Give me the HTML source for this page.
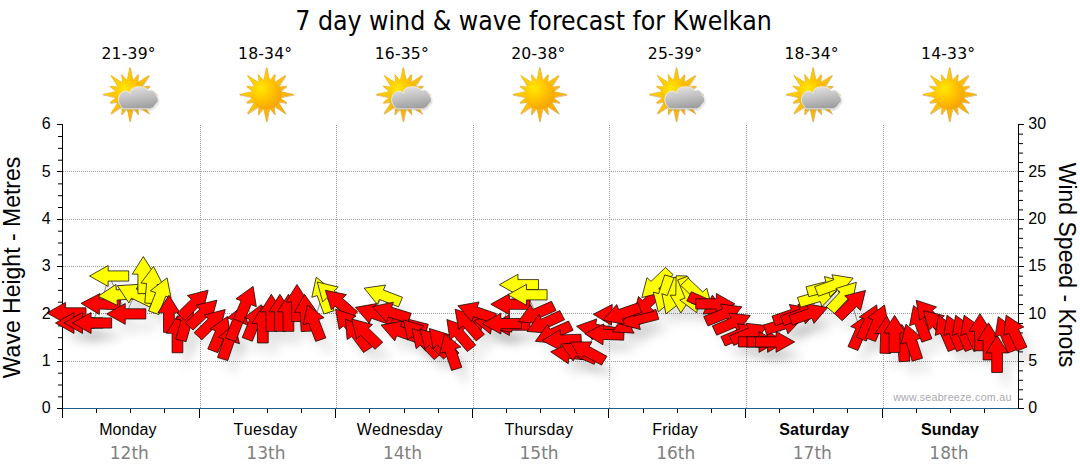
<!DOCTYPE html>
<html lang="en"><head><meta charset="utf-8"><title>7 day wind &amp; wave forecast for Kwelkan</title>
<style>html,body{margin:0;padding:0;background:#fff}body{width:1080px;height:475px;overflow:hidden}svg{display:block}</style>
</head><body>
<svg width="1080" height="475" viewBox="0 0 1080 475">
<defs>
<radialGradient id="sung" cx="0.32" cy="0.3" r="0.85"><stop offset="0" stop-color="#ffe800"/><stop offset="0.45" stop-color="#ffc400"/><stop offset="1" stop-color="#f39a0a"/></radialGradient>
<linearGradient id="rayg" x1="0" y1="0" x2="1" y2="1"><stop offset="0" stop-color="#ffe000"/><stop offset="1" stop-color="#f7a10c"/></linearGradient>
<linearGradient id="cldg" x1="0.2" y1="0" x2="0.45" y2="1"><stop offset="0" stop-color="#e4e4e4"/><stop offset="0.5" stop-color="#c2c2c2"/><stop offset="1" stop-color="#9e9e9e"/></linearGradient>
<filter id="cb" x="-20%" y="-20%" width="140%" height="140%"><feGaussianBlur stdDeviation="0.8"/></filter>
<filter id="sh" x="-5%" y="-30%" width="110%" height="180%"><feGaussianBlur stdDeviation="4"/></filter>
</defs>
<rect width="1080" height="475" fill="#fff"/>
<text x="533.5" y="29.5" text-anchor="middle" font-family="'DejaVu Sans Condensed','DejaVu Sans',sans-serif" font-size="26.5" fill="#000" textLength="476.5" lengthAdjust="spacingAndGlyphs">7 day wind &amp; wave forecast for Kwelkan</text>
<text x="128.6" y="59" text-anchor="middle" font-family="'DejaVu Sans',sans-serif" font-size="15.6" letter-spacing="0.2" fill="#000">21-39°</text>
<path d="M132.8,81.3L129.8,67.3L126.8,81.3ZM137.08,83.25L138.07,74.34L132.47,81.33ZM141.11,87.23L148.89,75.21L136.87,82.99ZM142.77,91.63L149.76,86.03L140.85,87.02ZM142.8,97.3L156.8,94.3L142.8,91.3ZM140.85,101.58L149.76,102.57L142.77,96.97ZM136.87,105.61L148.89,113.39L141.11,101.37ZM132.47,107.27L138.07,114.26L137.08,105.35ZM126.8,107.3L129.8,121.3L132.8,107.3ZM122.52,105.35L121.53,114.26L127.13,107.27ZM118.49,101.37L110.71,113.39L122.73,105.61ZM116.83,96.97L109.84,102.57L118.75,101.58ZM116.8,91.3L102.8,94.3L116.8,97.3ZM118.75,87.02L109.84,86.03L116.83,91.63ZM122.73,82.99L110.71,75.21L118.49,87.23ZM127.13,81.33L121.53,74.34L122.52,83.25Z" fill="url(#rayg)" stroke="#b87408" stroke-width="0.7" stroke-linejoin="round" transform="translate(0.6,0.8)" opacity="0.6"/>
<path d="M132.8,81.3L129.8,67.3L126.8,81.3ZM137.08,83.25L138.07,74.34L132.47,81.33ZM141.11,87.23L148.89,75.21L136.87,82.99ZM142.77,91.63L149.76,86.03L140.85,87.02ZM142.8,97.3L156.8,94.3L142.8,91.3ZM140.85,101.58L149.76,102.57L142.77,96.97ZM136.87,105.61L148.89,113.39L141.11,101.37ZM132.47,107.27L138.07,114.26L137.08,105.35ZM126.8,107.3L129.8,121.3L132.8,107.3ZM122.52,105.35L121.53,114.26L127.13,107.27ZM118.49,101.37L110.71,113.39L122.73,105.61ZM116.83,96.97L109.84,102.57L118.75,101.58ZM116.8,91.3L102.8,94.3L116.8,97.3ZM118.75,87.02L109.84,86.03L116.83,91.63ZM122.73,82.99L110.71,75.21L118.49,87.23ZM127.13,81.33L121.53,74.34L122.52,83.25Z" fill="url(#rayg)" stroke="#e9a516" stroke-width="0.4" stroke-linejoin="round"/>
<circle cx="129.8" cy="94.3" r="15" fill="url(#sung)"/>
<path d="M123.1,108.9C122.42,107.93 119.73,105.05 119,103.1C118.27,101.15 118.3,98.93 118.7,97.2C119.1,95.47 120.2,93.73 121.4,92.7C122.6,91.67 124.53,91.03 125.9,91C127.27,90.97 128.85,92.13 129.6,92.5C130.35,92.87 130.17,93.67 130.4,93.2C130.63,92.73 130.32,90.67 131,89.7C131.68,88.73 133.12,87.9 134.5,87.4C135.88,86.9 137.65,86.7 139.3,86.7C140.95,86.7 143,86.9 144.4,87.4C145.8,87.9 147.02,89.2 147.7,89.7C148.38,90.2 147.77,90.33 148.5,90.4C149.23,90.47 150.95,89.65 152.1,90.1C153.25,90.55 154.67,92.15 155.4,93.1C156.13,94.05 156.07,95 156.5,95.8C156.93,96.6 157.73,96.92 158,97.9C158.27,98.88 158.52,100.63 158.1,101.7C157.68,102.77 156.22,103.43 155.5,104.3C154.78,105.17 154.68,106.13 153.8,106.9C152.92,107.67 150.8,108.57 150.2,108.9Z" fill="#555" opacity="0.35" transform="translate(0.3,1.1)" filter="url(#cb)"/><path d="M123.1,108.9C122.42,107.93 119.73,105.05 119,103.1C118.27,101.15 118.3,98.93 118.7,97.2C119.1,95.47 120.2,93.73 121.4,92.7C122.6,91.67 124.53,91.03 125.9,91C127.27,90.97 128.85,92.13 129.6,92.5C130.35,92.87 130.17,93.67 130.4,93.2C130.63,92.73 130.32,90.67 131,89.7C131.68,88.73 133.12,87.9 134.5,87.4C135.88,86.9 137.65,86.7 139.3,86.7C140.95,86.7 143,86.9 144.4,87.4C145.8,87.9 147.02,89.2 147.7,89.7C148.38,90.2 147.77,90.33 148.5,90.4C149.23,90.47 150.95,89.65 152.1,90.1C153.25,90.55 154.67,92.15 155.4,93.1C156.13,94.05 156.07,95 156.5,95.8C156.93,96.6 157.73,96.92 158,97.9C158.27,98.88 158.52,100.63 158.1,101.7C157.68,102.77 156.22,103.43 155.5,104.3C154.78,105.17 154.68,106.13 153.8,106.9C152.92,107.67 150.8,108.57 150.2,108.9Z" fill="url(#cldg)" stroke="#f2f2f2" stroke-width="0.9"/>
<text x="265.2" y="59" text-anchor="middle" font-family="'DejaVu Sans',sans-serif" font-size="15.6" letter-spacing="0.2" fill="#000">18-34°</text>
<path d="M269.4,81.3L266.4,67.3L263.4,81.3ZM273.68,83.25L274.67,74.34L269.07,81.33ZM277.71,87.23L285.49,75.21L273.47,82.99ZM279.37,91.63L286.36,86.03L277.45,87.02ZM279.4,97.3L293.4,94.3L279.4,91.3ZM277.45,101.58L286.36,102.57L279.37,96.97ZM273.47,105.61L285.49,113.39L277.71,101.37ZM269.07,107.27L274.67,114.26L273.68,105.35ZM263.4,107.3L266.4,121.3L269.4,107.3ZM259.12,105.35L258.13,114.26L263.73,107.27ZM255.09,101.37L247.31,113.39L259.33,105.61ZM253.43,96.97L246.44,102.57L255.35,101.58ZM253.4,91.3L239.4,94.3L253.4,97.3ZM255.35,87.02L246.44,86.03L253.43,91.63ZM259.33,82.99L247.31,75.21L255.09,87.23ZM263.73,81.33L258.13,74.34L259.12,83.25Z" fill="url(#rayg)" stroke="#b87408" stroke-width="0.7" stroke-linejoin="round" transform="translate(0.6,0.8)" opacity="0.6"/>
<path d="M269.4,81.3L266.4,67.3L263.4,81.3ZM273.68,83.25L274.67,74.34L269.07,81.33ZM277.71,87.23L285.49,75.21L273.47,82.99ZM279.37,91.63L286.36,86.03L277.45,87.02ZM279.4,97.3L293.4,94.3L279.4,91.3ZM277.45,101.58L286.36,102.57L279.37,96.97ZM273.47,105.61L285.49,113.39L277.71,101.37ZM269.07,107.27L274.67,114.26L273.68,105.35ZM263.4,107.3L266.4,121.3L269.4,107.3ZM259.12,105.35L258.13,114.26L263.73,107.27ZM255.09,101.37L247.31,113.39L259.33,105.61ZM253.43,96.97L246.44,102.57L255.35,101.58ZM253.4,91.3L239.4,94.3L253.4,97.3ZM255.35,87.02L246.44,86.03L253.43,91.63ZM259.33,82.99L247.31,75.21L255.09,87.23ZM263.73,81.33L258.13,74.34L259.12,83.25Z" fill="url(#rayg)" stroke="#e9a516" stroke-width="0.4" stroke-linejoin="round"/>
<circle cx="266.4" cy="94.3" r="15" fill="url(#sung)"/>
<text x="401.8" y="59" text-anchor="middle" font-family="'DejaVu Sans',sans-serif" font-size="15.6" letter-spacing="0.2" fill="#000">16-35°</text>
<path d="M406,81.3L403,67.3L400,81.3ZM410.28,83.25L411.27,74.34L405.67,81.33ZM414.31,87.23L422.09,75.21L410.07,82.99ZM415.97,91.63L422.96,86.03L414.05,87.02ZM416,97.3L430,94.3L416,91.3ZM414.05,101.58L422.96,102.57L415.97,96.97ZM410.07,105.61L422.09,113.39L414.31,101.37ZM405.67,107.27L411.27,114.26L410.28,105.35ZM400,107.3L403,121.3L406,107.3ZM395.72,105.35L394.73,114.26L400.33,107.27ZM391.69,101.37L383.91,113.39L395.93,105.61ZM390.03,96.97L383.04,102.57L391.95,101.58ZM390,91.3L376,94.3L390,97.3ZM391.95,87.02L383.04,86.03L390.03,91.63ZM395.93,82.99L383.91,75.21L391.69,87.23ZM400.33,81.33L394.73,74.34L395.72,83.25Z" fill="url(#rayg)" stroke="#b87408" stroke-width="0.7" stroke-linejoin="round" transform="translate(0.6,0.8)" opacity="0.6"/>
<path d="M406,81.3L403,67.3L400,81.3ZM410.28,83.25L411.27,74.34L405.67,81.33ZM414.31,87.23L422.09,75.21L410.07,82.99ZM415.97,91.63L422.96,86.03L414.05,87.02ZM416,97.3L430,94.3L416,91.3ZM414.05,101.58L422.96,102.57L415.97,96.97ZM410.07,105.61L422.09,113.39L414.31,101.37ZM405.67,107.27L411.27,114.26L410.28,105.35ZM400,107.3L403,121.3L406,107.3ZM395.72,105.35L394.73,114.26L400.33,107.27ZM391.69,101.37L383.91,113.39L395.93,105.61ZM390.03,96.97L383.04,102.57L391.95,101.58ZM390,91.3L376,94.3L390,97.3ZM391.95,87.02L383.04,86.03L390.03,91.63ZM395.93,82.99L383.91,75.21L391.69,87.23ZM400.33,81.33L394.73,74.34L395.72,83.25Z" fill="url(#rayg)" stroke="#e9a516" stroke-width="0.4" stroke-linejoin="round"/>
<circle cx="403" cy="94.3" r="15" fill="url(#sung)"/>
<path d="M396.3,108.9C395.62,107.93 392.93,105.05 392.2,103.1C391.47,101.15 391.5,98.93 391.9,97.2C392.3,95.47 393.4,93.73 394.6,92.7C395.8,91.67 397.73,91.03 399.1,91C400.47,90.97 402.05,92.13 402.8,92.5C403.55,92.87 403.37,93.67 403.6,93.2C403.83,92.73 403.52,90.67 404.2,89.7C404.88,88.73 406.32,87.9 407.7,87.4C409.08,86.9 410.85,86.7 412.5,86.7C414.15,86.7 416.2,86.9 417.6,87.4C419,87.9 420.22,89.2 420.9,89.7C421.58,90.2 420.97,90.33 421.7,90.4C422.43,90.47 424.15,89.65 425.3,90.1C426.45,90.55 427.87,92.15 428.6,93.1C429.33,94.05 429.27,95 429.7,95.8C430.13,96.6 430.93,96.92 431.2,97.9C431.47,98.88 431.72,100.63 431.3,101.7C430.88,102.77 429.42,103.43 428.7,104.3C427.98,105.17 427.88,106.13 427,106.9C426.12,107.67 424,108.57 423.4,108.9Z" fill="#555" opacity="0.35" transform="translate(0.3,1.1)" filter="url(#cb)"/><path d="M396.3,108.9C395.62,107.93 392.93,105.05 392.2,103.1C391.47,101.15 391.5,98.93 391.9,97.2C392.3,95.47 393.4,93.73 394.6,92.7C395.8,91.67 397.73,91.03 399.1,91C400.47,90.97 402.05,92.13 402.8,92.5C403.55,92.87 403.37,93.67 403.6,93.2C403.83,92.73 403.52,90.67 404.2,89.7C404.88,88.73 406.32,87.9 407.7,87.4C409.08,86.9 410.85,86.7 412.5,86.7C414.15,86.7 416.2,86.9 417.6,87.4C419,87.9 420.22,89.2 420.9,89.7C421.58,90.2 420.97,90.33 421.7,90.4C422.43,90.47 424.15,89.65 425.3,90.1C426.45,90.55 427.87,92.15 428.6,93.1C429.33,94.05 429.27,95 429.7,95.8C430.13,96.6 430.93,96.92 431.2,97.9C431.47,98.88 431.72,100.63 431.3,101.7C430.88,102.77 429.42,103.43 428.7,104.3C427.98,105.17 427.88,106.13 427,106.9C426.12,107.67 424,108.57 423.4,108.9Z" fill="url(#cldg)" stroke="#f2f2f2" stroke-width="0.9"/>
<text x="538.4" y="59" text-anchor="middle" font-family="'DejaVu Sans',sans-serif" font-size="15.6" letter-spacing="0.2" fill="#000">20-38°</text>
<path d="M542.6,81.3L539.6,67.3L536.6,81.3ZM546.88,83.25L547.87,74.34L542.27,81.33ZM550.91,87.23L558.69,75.21L546.67,82.99ZM552.57,91.63L559.56,86.03L550.65,87.02ZM552.6,97.3L566.6,94.3L552.6,91.3ZM550.65,101.58L559.56,102.57L552.57,96.97ZM546.67,105.61L558.69,113.39L550.91,101.37ZM542.27,107.27L547.87,114.26L546.88,105.35ZM536.6,107.3L539.6,121.3L542.6,107.3ZM532.32,105.35L531.33,114.26L536.93,107.27ZM528.29,101.37L520.51,113.39L532.53,105.61ZM526.63,96.97L519.64,102.57L528.55,101.58ZM526.6,91.3L512.6,94.3L526.6,97.3ZM528.55,87.02L519.64,86.03L526.63,91.63ZM532.53,82.99L520.51,75.21L528.29,87.23ZM536.93,81.33L531.33,74.34L532.32,83.25Z" fill="url(#rayg)" stroke="#b87408" stroke-width="0.7" stroke-linejoin="round" transform="translate(0.6,0.8)" opacity="0.6"/>
<path d="M542.6,81.3L539.6,67.3L536.6,81.3ZM546.88,83.25L547.87,74.34L542.27,81.33ZM550.91,87.23L558.69,75.21L546.67,82.99ZM552.57,91.63L559.56,86.03L550.65,87.02ZM552.6,97.3L566.6,94.3L552.6,91.3ZM550.65,101.58L559.56,102.57L552.57,96.97ZM546.67,105.61L558.69,113.39L550.91,101.37ZM542.27,107.27L547.87,114.26L546.88,105.35ZM536.6,107.3L539.6,121.3L542.6,107.3ZM532.32,105.35L531.33,114.26L536.93,107.27ZM528.29,101.37L520.51,113.39L532.53,105.61ZM526.63,96.97L519.64,102.57L528.55,101.58ZM526.6,91.3L512.6,94.3L526.6,97.3ZM528.55,87.02L519.64,86.03L526.63,91.63ZM532.53,82.99L520.51,75.21L528.29,87.23ZM536.93,81.33L531.33,74.34L532.32,83.25Z" fill="url(#rayg)" stroke="#e9a516" stroke-width="0.4" stroke-linejoin="round"/>
<circle cx="539.6" cy="94.3" r="15" fill="url(#sung)"/>
<text x="675" y="59" text-anchor="middle" font-family="'DejaVu Sans',sans-serif" font-size="15.6" letter-spacing="0.2" fill="#000">25-39°</text>
<path d="M679.2,81.3L676.2,67.3L673.2,81.3ZM683.48,83.25L684.47,74.34L678.87,81.33ZM687.51,87.23L695.29,75.21L683.27,82.99ZM689.17,91.63L696.16,86.03L687.25,87.02ZM689.2,97.3L703.2,94.3L689.2,91.3ZM687.25,101.58L696.16,102.57L689.17,96.97ZM683.27,105.61L695.29,113.39L687.51,101.37ZM678.87,107.27L684.47,114.26L683.48,105.35ZM673.2,107.3L676.2,121.3L679.2,107.3ZM668.92,105.35L667.93,114.26L673.53,107.27ZM664.89,101.37L657.11,113.39L669.13,105.61ZM663.23,96.97L656.24,102.57L665.15,101.58ZM663.2,91.3L649.2,94.3L663.2,97.3ZM665.15,87.02L656.24,86.03L663.23,91.63ZM669.13,82.99L657.11,75.21L664.89,87.23ZM673.53,81.33L667.93,74.34L668.92,83.25Z" fill="url(#rayg)" stroke="#b87408" stroke-width="0.7" stroke-linejoin="round" transform="translate(0.6,0.8)" opacity="0.6"/>
<path d="M679.2,81.3L676.2,67.3L673.2,81.3ZM683.48,83.25L684.47,74.34L678.87,81.33ZM687.51,87.23L695.29,75.21L683.27,82.99ZM689.17,91.63L696.16,86.03L687.25,87.02ZM689.2,97.3L703.2,94.3L689.2,91.3ZM687.25,101.58L696.16,102.57L689.17,96.97ZM683.27,105.61L695.29,113.39L687.51,101.37ZM678.87,107.27L684.47,114.26L683.48,105.35ZM673.2,107.3L676.2,121.3L679.2,107.3ZM668.92,105.35L667.93,114.26L673.53,107.27ZM664.89,101.37L657.11,113.39L669.13,105.61ZM663.23,96.97L656.24,102.57L665.15,101.58ZM663.2,91.3L649.2,94.3L663.2,97.3ZM665.15,87.02L656.24,86.03L663.23,91.63ZM669.13,82.99L657.11,75.21L664.89,87.23ZM673.53,81.33L667.93,74.34L668.92,83.25Z" fill="url(#rayg)" stroke="#e9a516" stroke-width="0.4" stroke-linejoin="round"/>
<circle cx="676.2" cy="94.3" r="15" fill="url(#sung)"/>
<path d="M669.5,108.9C668.82,107.93 666.13,105.05 665.4,103.1C664.67,101.15 664.7,98.93 665.1,97.2C665.5,95.47 666.6,93.73 667.8,92.7C669,91.67 670.93,91.03 672.3,91C673.67,90.97 675.25,92.13 676,92.5C676.75,92.87 676.57,93.67 676.8,93.2C677.03,92.73 676.72,90.67 677.4,89.7C678.08,88.73 679.52,87.9 680.9,87.4C682.28,86.9 684.05,86.7 685.7,86.7C687.35,86.7 689.4,86.9 690.8,87.4C692.2,87.9 693.42,89.2 694.1,89.7C694.78,90.2 694.17,90.33 694.9,90.4C695.63,90.47 697.35,89.65 698.5,90.1C699.65,90.55 701.07,92.15 701.8,93.1C702.53,94.05 702.47,95 702.9,95.8C703.33,96.6 704.13,96.92 704.4,97.9C704.67,98.88 704.92,100.63 704.5,101.7C704.08,102.77 702.62,103.43 701.9,104.3C701.18,105.17 701.08,106.13 700.2,106.9C699.32,107.67 697.2,108.57 696.6,108.9Z" fill="#555" opacity="0.35" transform="translate(0.3,1.1)" filter="url(#cb)"/><path d="M669.5,108.9C668.82,107.93 666.13,105.05 665.4,103.1C664.67,101.15 664.7,98.93 665.1,97.2C665.5,95.47 666.6,93.73 667.8,92.7C669,91.67 670.93,91.03 672.3,91C673.67,90.97 675.25,92.13 676,92.5C676.75,92.87 676.57,93.67 676.8,93.2C677.03,92.73 676.72,90.67 677.4,89.7C678.08,88.73 679.52,87.9 680.9,87.4C682.28,86.9 684.05,86.7 685.7,86.7C687.35,86.7 689.4,86.9 690.8,87.4C692.2,87.9 693.42,89.2 694.1,89.7C694.78,90.2 694.17,90.33 694.9,90.4C695.63,90.47 697.35,89.65 698.5,90.1C699.65,90.55 701.07,92.15 701.8,93.1C702.53,94.05 702.47,95 702.9,95.8C703.33,96.6 704.13,96.92 704.4,97.9C704.67,98.88 704.92,100.63 704.5,101.7C704.08,102.77 702.62,103.43 701.9,104.3C701.18,105.17 701.08,106.13 700.2,106.9C699.32,107.67 697.2,108.57 696.6,108.9Z" fill="url(#cldg)" stroke="#f2f2f2" stroke-width="0.9"/>
<text x="811.6" y="59" text-anchor="middle" font-family="'DejaVu Sans',sans-serif" font-size="15.6" letter-spacing="0.2" fill="#000">18-34°</text>
<path d="M815.8,81.3L812.8,67.3L809.8,81.3ZM820.08,83.25L821.07,74.34L815.47,81.33ZM824.11,87.23L831.89,75.21L819.87,82.99ZM825.77,91.63L832.76,86.03L823.85,87.02ZM825.8,97.3L839.8,94.3L825.8,91.3ZM823.85,101.58L832.76,102.57L825.77,96.97ZM819.87,105.61L831.89,113.39L824.11,101.37ZM815.47,107.27L821.07,114.26L820.08,105.35ZM809.8,107.3L812.8,121.3L815.8,107.3ZM805.52,105.35L804.53,114.26L810.13,107.27ZM801.49,101.37L793.71,113.39L805.73,105.61ZM799.83,96.97L792.84,102.57L801.75,101.58ZM799.8,91.3L785.8,94.3L799.8,97.3ZM801.75,87.02L792.84,86.03L799.83,91.63ZM805.73,82.99L793.71,75.21L801.49,87.23ZM810.13,81.33L804.53,74.34L805.52,83.25Z" fill="url(#rayg)" stroke="#b87408" stroke-width="0.7" stroke-linejoin="round" transform="translate(0.6,0.8)" opacity="0.6"/>
<path d="M815.8,81.3L812.8,67.3L809.8,81.3ZM820.08,83.25L821.07,74.34L815.47,81.33ZM824.11,87.23L831.89,75.21L819.87,82.99ZM825.77,91.63L832.76,86.03L823.85,87.02ZM825.8,97.3L839.8,94.3L825.8,91.3ZM823.85,101.58L832.76,102.57L825.77,96.97ZM819.87,105.61L831.89,113.39L824.11,101.37ZM815.47,107.27L821.07,114.26L820.08,105.35ZM809.8,107.3L812.8,121.3L815.8,107.3ZM805.52,105.35L804.53,114.26L810.13,107.27ZM801.49,101.37L793.71,113.39L805.73,105.61ZM799.83,96.97L792.84,102.57L801.75,101.58ZM799.8,91.3L785.8,94.3L799.8,97.3ZM801.75,87.02L792.84,86.03L799.83,91.63ZM805.73,82.99L793.71,75.21L801.49,87.23ZM810.13,81.33L804.53,74.34L805.52,83.25Z" fill="url(#rayg)" stroke="#e9a516" stroke-width="0.4" stroke-linejoin="round"/>
<circle cx="812.8" cy="94.3" r="15" fill="url(#sung)"/>
<path d="M806.1,108.9C805.42,107.93 802.73,105.05 802,103.1C801.27,101.15 801.3,98.93 801.7,97.2C802.1,95.47 803.2,93.73 804.4,92.7C805.6,91.67 807.53,91.03 808.9,91C810.27,90.97 811.85,92.13 812.6,92.5C813.35,92.87 813.17,93.67 813.4,93.2C813.63,92.73 813.32,90.67 814,89.7C814.68,88.73 816.12,87.9 817.5,87.4C818.88,86.9 820.65,86.7 822.3,86.7C823.95,86.7 826,86.9 827.4,87.4C828.8,87.9 830.02,89.2 830.7,89.7C831.38,90.2 830.77,90.33 831.5,90.4C832.23,90.47 833.95,89.65 835.1,90.1C836.25,90.55 837.67,92.15 838.4,93.1C839.13,94.05 839.07,95 839.5,95.8C839.93,96.6 840.73,96.92 841,97.9C841.27,98.88 841.52,100.63 841.1,101.7C840.68,102.77 839.22,103.43 838.5,104.3C837.78,105.17 837.68,106.13 836.8,106.9C835.92,107.67 833.8,108.57 833.2,108.9Z" fill="#555" opacity="0.35" transform="translate(0.3,1.1)" filter="url(#cb)"/><path d="M806.1,108.9C805.42,107.93 802.73,105.05 802,103.1C801.27,101.15 801.3,98.93 801.7,97.2C802.1,95.47 803.2,93.73 804.4,92.7C805.6,91.67 807.53,91.03 808.9,91C810.27,90.97 811.85,92.13 812.6,92.5C813.35,92.87 813.17,93.67 813.4,93.2C813.63,92.73 813.32,90.67 814,89.7C814.68,88.73 816.12,87.9 817.5,87.4C818.88,86.9 820.65,86.7 822.3,86.7C823.95,86.7 826,86.9 827.4,87.4C828.8,87.9 830.02,89.2 830.7,89.7C831.38,90.2 830.77,90.33 831.5,90.4C832.23,90.47 833.95,89.65 835.1,90.1C836.25,90.55 837.67,92.15 838.4,93.1C839.13,94.05 839.07,95 839.5,95.8C839.93,96.6 840.73,96.92 841,97.9C841.27,98.88 841.52,100.63 841.1,101.7C840.68,102.77 839.22,103.43 838.5,104.3C837.78,105.17 837.68,106.13 836.8,106.9C835.92,107.67 833.8,108.57 833.2,108.9Z" fill="url(#cldg)" stroke="#f2f2f2" stroke-width="0.9"/>
<text x="948.2" y="59" text-anchor="middle" font-family="'DejaVu Sans',sans-serif" font-size="15.6" letter-spacing="0.2" fill="#000">14-33°</text>
<path d="M952.4,81.3L949.4,67.3L946.4,81.3ZM956.68,83.25L957.67,74.34L952.07,81.33ZM960.71,87.23L968.49,75.21L956.47,82.99ZM962.37,91.63L969.36,86.03L960.45,87.02ZM962.4,97.3L976.4,94.3L962.4,91.3ZM960.45,101.58L969.36,102.57L962.37,96.97ZM956.47,105.61L968.49,113.39L960.71,101.37ZM952.07,107.27L957.67,114.26L956.68,105.35ZM946.4,107.3L949.4,121.3L952.4,107.3ZM942.12,105.35L941.13,114.26L946.73,107.27ZM938.09,101.37L930.31,113.39L942.33,105.61ZM936.43,96.97L929.44,102.57L938.35,101.58ZM936.4,91.3L922.4,94.3L936.4,97.3ZM938.35,87.02L929.44,86.03L936.43,91.63ZM942.33,82.99L930.31,75.21L938.09,87.23ZM946.73,81.33L941.13,74.34L942.12,83.25Z" fill="url(#rayg)" stroke="#b87408" stroke-width="0.7" stroke-linejoin="round" transform="translate(0.6,0.8)" opacity="0.6"/>
<path d="M952.4,81.3L949.4,67.3L946.4,81.3ZM956.68,83.25L957.67,74.34L952.07,81.33ZM960.71,87.23L968.49,75.21L956.47,82.99ZM962.37,91.63L969.36,86.03L960.45,87.02ZM962.4,97.3L976.4,94.3L962.4,91.3ZM960.45,101.58L969.36,102.57L962.37,96.97ZM956.47,105.61L968.49,113.39L960.71,101.37ZM952.07,107.27L957.67,114.26L956.68,105.35ZM946.4,107.3L949.4,121.3L952.4,107.3ZM942.12,105.35L941.13,114.26L946.73,107.27ZM938.09,101.37L930.31,113.39L942.33,105.61ZM936.43,96.97L929.44,102.57L938.35,101.58ZM936.4,91.3L922.4,94.3L936.4,97.3ZM938.35,87.02L929.44,86.03L936.43,91.63ZM942.33,82.99L930.31,75.21L938.09,87.23ZM946.73,81.33L941.13,74.34L942.12,83.25Z" fill="url(#rayg)" stroke="#e9a516" stroke-width="0.4" stroke-linejoin="round"/>
<circle cx="949.4" cy="94.3" r="15" fill="url(#sung)"/>
<g stroke="#9a9a9a" stroke-width="1" stroke-dasharray="1 1" shape-rendering="crispEdges"><line x1="63" y1="361.5" x2="1018" y2="361.5"/><line x1="63" y1="313.5" x2="1018" y2="313.5"/><line x1="63" y1="266.5" x2="1018" y2="266.5"/><line x1="63" y1="219.5" x2="1018" y2="219.5"/><line x1="63" y1="171.5" x2="1018" y2="171.5"/><line x1="200.5" y1="124.5" x2="200.5" y2="408.5"/><line x1="336.5" y1="124.5" x2="336.5" y2="408.5"/><line x1="473.5" y1="124.5" x2="473.5" y2="408.5"/><line x1="609.5" y1="124.5" x2="609.5" y2="408.5"/><line x1="746.5" y1="124.5" x2="746.5" y2="408.5"/><line x1="883.5" y1="124.5" x2="883.5" y2="408.5"/></g>
<text x="1011.6" y="401" text-anchor="end" font-family="'Liberation Sans',sans-serif" font-size="10.7" fill="#aaaab0" letter-spacing="0.25">www.seabreeze.com.au</text>
<g stroke="#000" stroke-width="1" shape-rendering="crispEdges"><line x1="62.5" y1="124" x2="62.5" y2="409"/><line x1="1018.5" y1="124" x2="1018.5" y2="409"/><line x1="57" y1="408.5" x2="62" y2="408.5"/><line x1="57" y1="361.5" x2="62" y2="361.5"/><line x1="57" y1="313.5" x2="62" y2="313.5"/><line x1="57" y1="266.5" x2="62" y2="266.5"/><line x1="57" y1="219.5" x2="62" y2="219.5"/><line x1="57" y1="171.5" x2="62" y2="171.5"/><line x1="57" y1="124.5" x2="62" y2="124.5"/><line x1="1019" y1="408.5" x2="1024" y2="408.5"/><line x1="1019" y1="361.5" x2="1024" y2="361.5"/><line x1="1019" y1="313.5" x2="1024" y2="313.5"/><line x1="1019" y1="266.5" x2="1024" y2="266.5"/><line x1="1019" y1="219.5" x2="1024" y2="219.5"/><line x1="1019" y1="171.5" x2="1024" y2="171.5"/><line x1="1019" y1="124.5" x2="1024" y2="124.5"/><line x1="62.5" y1="409" x2="62.5" y2="418"/><line x1="96.5" y1="409" x2="96.5" y2="413"/><line x1="130.5" y1="409" x2="130.5" y2="413"/><line x1="164.5" y1="409" x2="164.5" y2="413"/><line x1="199.5" y1="409" x2="199.5" y2="418"/><line x1="233.5" y1="409" x2="233.5" y2="413"/><line x1="267.5" y1="409" x2="267.5" y2="413"/><line x1="301.5" y1="409" x2="301.5" y2="413"/><line x1="335.5" y1="409" x2="335.5" y2="418"/><line x1="369.5" y1="409" x2="369.5" y2="413"/><line x1="404.5" y1="409" x2="404.5" y2="413"/><line x1="438.5" y1="409" x2="438.5" y2="413"/><line x1="472.5" y1="409" x2="472.5" y2="418"/><line x1="506.5" y1="409" x2="506.5" y2="413"/><line x1="540.5" y1="409" x2="540.5" y2="413"/><line x1="574.5" y1="409" x2="574.5" y2="413"/><line x1="608.5" y1="409" x2="608.5" y2="418"/><line x1="643.5" y1="409" x2="643.5" y2="413"/><line x1="677.5" y1="409" x2="677.5" y2="413"/><line x1="711.5" y1="409" x2="711.5" y2="413"/><line x1="745.5" y1="409" x2="745.5" y2="418"/><line x1="779.5" y1="409" x2="779.5" y2="413"/><line x1="813.5" y1="409" x2="813.5" y2="413"/><line x1="847.5" y1="409" x2="847.5" y2="413"/><line x1="882.5" y1="409" x2="882.5" y2="418"/><line x1="916.5" y1="409" x2="916.5" y2="413"/><line x1="950.5" y1="409" x2="950.5" y2="413"/><line x1="984.5" y1="409" x2="984.5" y2="413"/></g>
<g stroke="#000" stroke-width="1"><line x1="58" y1="396.87" x2="62" y2="396.87"/><line x1="58" y1="385.03" x2="62" y2="385.03"/><line x1="58" y1="373.2" x2="62" y2="373.2"/><line x1="58" y1="349.53" x2="62" y2="349.53"/><line x1="58" y1="337.7" x2="62" y2="337.7"/><line x1="58" y1="325.87" x2="62" y2="325.87"/><line x1="58" y1="302.2" x2="62" y2="302.2"/><line x1="58" y1="290.37" x2="62" y2="290.37"/><line x1="58" y1="278.53" x2="62" y2="278.53"/><line x1="58" y1="254.87" x2="62" y2="254.87"/><line x1="58" y1="243.03" x2="62" y2="243.03"/><line x1="58" y1="231.2" x2="62" y2="231.2"/><line x1="58" y1="207.53" x2="62" y2="207.53"/><line x1="58" y1="195.7" x2="62" y2="195.7"/><line x1="58" y1="183.87" x2="62" y2="183.87"/><line x1="58" y1="160.2" x2="62" y2="160.2"/><line x1="58" y1="148.37" x2="62" y2="148.37"/><line x1="58" y1="136.53" x2="62" y2="136.53"/><line x1="1019" y1="399.23" x2="1023" y2="399.23"/><line x1="1019" y1="389.77" x2="1023" y2="389.77"/><line x1="1019" y1="380.3" x2="1023" y2="380.3"/><line x1="1019" y1="370.83" x2="1023" y2="370.83"/><line x1="1019" y1="351.9" x2="1023" y2="351.9"/><line x1="1019" y1="342.43" x2="1023" y2="342.43"/><line x1="1019" y1="332.97" x2="1023" y2="332.97"/><line x1="1019" y1="323.5" x2="1023" y2="323.5"/><line x1="1019" y1="304.57" x2="1023" y2="304.57"/><line x1="1019" y1="295.1" x2="1023" y2="295.1"/><line x1="1019" y1="285.63" x2="1023" y2="285.63"/><line x1="1019" y1="276.17" x2="1023" y2="276.17"/><line x1="1019" y1="257.23" x2="1023" y2="257.23"/><line x1="1019" y1="247.77" x2="1023" y2="247.77"/><line x1="1019" y1="238.3" x2="1023" y2="238.3"/><line x1="1019" y1="228.83" x2="1023" y2="228.83"/><line x1="1019" y1="209.9" x2="1023" y2="209.9"/><line x1="1019" y1="200.43" x2="1023" y2="200.43"/><line x1="1019" y1="190.97" x2="1023" y2="190.97"/><line x1="1019" y1="181.5" x2="1023" y2="181.5"/><line x1="1019" y1="162.57" x2="1023" y2="162.57"/><line x1="1019" y1="153.1" x2="1023" y2="153.1"/><line x1="1019" y1="143.63" x2="1023" y2="143.63"/><line x1="1019" y1="134.17" x2="1023" y2="134.17"/></g>
<line x1="63" y1="408.5" x2="1018" y2="408.5" stroke="#1f5f8b" stroke-width="1" shape-rendering="crispEdges"/>
<g filter="url(#sh)" transform="translate(9,13)" fill="#000" fill-opacity="0.075"><polygon points="490.85,325.1 509.42,314.65 509.42,320 529.99,320 529.99,330.2 509.42,330.2 509.42,335.55"/><polygon points="389.07,319.6 409.85,314.06 408.39,319.23 428.26,324.27 425.48,334.13 405.61,329.08 404.15,334.25"/><polygon points="465.99,315.79 486.88,310.59 485.33,315.74 505.1,321.11 502.14,330.92 482.36,325.54 480.8,330.68"/><polygon points="474.07,320.68 494.27,313.44 493.29,318.71 513.55,322.1 511.68,332.14 491.42,328.76 490.44,334.03"/><polygon points="901.78,324.4 914.07,341.22 908.44,341.6 909.88,361.05 899.14,361.76 897.71,342.31 892.08,342.68"/><polygon points="46.9,312.9 65.47,302.45 65.47,307.8 86.04,307.8 86.04,318 65.47,318 65.47,323.35"/><polygon points="55.44,323 74,312.55 74,317.9 94.58,317.9 94.58,328.1 74,328.1 74,333.45"/><polygon points="63.97,323 82.54,312.55 82.54,317.9 103.11,317.9 103.11,328.1 82.54,328.1 82.54,333.45"/><polygon points="72.51,323 91.08,312.55 91.08,317.9 111.65,317.9 111.65,328.1 91.08,328.1 91.08,333.45"/><polygon points="81.06,303.35 100,293.52 99.8,298.87 120.36,299.55 119.99,309.74 99.43,309.06 99.23,314.41"/><polygon points="89.59,276 108.15,265.55 108.15,270.9 128.73,270.9 128.73,281.1 108.15,281.1 108.15,286.45"/><polygon points="98.17,296.19 115.92,284.54 116.32,289.88 136.84,288.52 137.59,298.69 117.07,300.05 117.46,305.39"/><polygon points="106.66,313.9 125.23,303.45 125.23,308.8 145.8,308.8 145.8,319 125.23,319 125.23,324.35"/><polygon points="117.33,285.68 138.88,284.36 136.32,289.12 154.65,297.98 149.76,307.07 131.43,298.21 128.87,302.98"/><polygon points="143.31,256.55 154.33,274.15 148.69,274.15 148.69,293.65 137.93,293.65 137.93,274.15 132.28,274.15"/><polygon points="153.55,266.42 162.91,284.86 157.29,284.4 155.5,303.82 144.78,302.93 146.57,283.51 140.95,283.04"/><polygon points="167.07,277.87 171.08,297.98 165.78,296.15 158.74,314.48 148.63,310.99 155.67,292.66 150.36,290.83"/><polygon points="168.92,295.25 179.94,312.85 174.3,312.85 174.3,332.35 163.54,332.35 163.54,312.85 157.89,312.85"/><polygon points="177.46,315.65 188.48,333.25 182.84,333.25 182.84,352.75 172.08,352.75 172.08,333.25 166.43,333.25"/><polygon points="191.06,304.48 196.9,324.19 191.45,322.8 186.13,341.64 175.73,339 181.06,320.16 175.6,318.78"/><polygon points="208.13,290.16 203.16,310.08 199.1,306.36 184.81,320.39 177.07,313.3 191.36,299.27 187.3,295.56"/><polygon points="216.91,300.18 211.57,320.02 207.58,316.23 193.04,330.02 185.43,322.81 199.97,309.02 195.98,305.24"/><polygon points="225.2,309.56 220.23,329.48 216.17,325.76 201.88,339.79 194.14,332.7 208.43,318.67 204.37,314.96"/><polygon points="227.47,316.4 230.74,336.63 225.51,334.63 217.8,352.71 207.82,348.89 215.53,330.81 210.3,328.8"/><polygon points="234.73,323.76 239.48,343.73 234.11,342.07 227.75,360.62 217.52,357.47 223.87,338.92 218.51,337.27"/><polygon points="243.91,304.97 247.92,325.08 242.62,323.25 235.58,341.58 225.47,338.09 232.51,319.76 227.2,317.93"/><polygon points="253.09,286.4 256.35,306.63 251.12,304.63 243.41,322.71 233.44,318.89 241.14,300.81 235.91,298.8"/><polygon points="261.31,304.78 264.95,324.96 259.68,323.04 252.3,341.25 242.26,337.59 249.63,319.39 244.36,317.47"/><polygon points="262.83,305.85 273.86,323.45 268.21,323.45 268.21,342.95 257.45,342.95 257.45,323.45 251.81,323.45"/><polygon points="271.37,294.25 282.39,311.85 276.75,311.85 276.75,331.35 265.99,331.35 265.99,311.85 260.34,311.85"/><polygon points="279.91,294.25 290.93,311.85 285.29,311.85 285.29,331.35 274.53,331.35 274.53,311.85 268.88,311.85"/><polygon points="288.44,294.25 299.47,311.85 293.82,311.85 293.82,331.35 283.06,331.35 283.06,311.85 277.42,311.85"/><polygon points="296.98,284.45 308.01,302.05 302.36,302.05 302.36,321.55 291.6,321.55 291.6,302.05 285.96,302.05"/><polygon points="304.49,294.28 316.48,311.3 310.84,311.58 311.92,331.06 301.17,331.59 300.09,312.12 294.46,312.4"/><polygon points="307.36,304.77 324.07,317.73 318.77,319.56 325.81,337.89 315.69,341.38 308.66,323.05 303.35,324.88"/><polygon points="316.22,277.26 332.69,290.5 327.35,292.24 334.05,310.68 323.88,314 317.18,295.56 311.84,297.3"/><polygon points="317.29,281.98 338.22,287.04 334.23,290.82 348.77,304.61 341.16,311.82 326.62,298.03 322.63,301.82"/><polygon points="325.36,290.25 346.45,294.61 342.61,298.52 357.65,311.82 350.31,319.28 335.27,305.98 331.42,309.89"/><polygon points="335.63,309.19 356.01,315.96 351.68,319.39 364.91,334.33 356.66,340.89 343.44,325.95 339.12,329.39"/><polygon points="345.52,319.2 365.2,327.63 360.58,330.7 372.38,346.67 363.56,352.52 351.76,336.55 347.14,339.62"/><polygon points="351.69,319.06 372.52,324.46 368.46,328.17 382.75,342.2 375.01,349.29 360.71,335.26 356.65,338.98"/><polygon points="355.43,307.36 376.65,303.56 374.72,308.58 394.05,315.25 390.37,324.84 371.04,318.17 369.11,323.19"/><polygon points="364.21,288.15 385.56,285.06 383.44,290.02 402.52,297.32 398.49,306.78 379.41,299.47 377.3,304.43"/><polygon points="372.28,306.67 393.35,302.17 391.6,307.26 411.17,313.28 407.84,322.98 388.28,316.96 386.53,322.04"/><polygon points="381.04,325.06 402.26,321.26 400.33,326.28 419.66,332.95 415.98,342.54 396.65,335.87 394.72,340.89"/><polygon points="403.41,319.91 424.03,326 419.83,329.58 433.6,344.07 425.6,350.9 411.84,336.41 407.64,339.99"/><polygon points="411.95,328.61 432.57,334.7 428.37,338.28 442.14,352.77 434.14,359.6 420.37,345.11 416.18,348.69"/><polygon points="419.74,329.28 440.67,334.34 436.68,338.12 451.22,351.91 443.61,359.12 429.07,345.33 425.08,349.12"/><polygon points="429.28,328.4 449.78,334.83 445.52,338.34 459.02,353.05 450.9,359.75 437.4,345.03 433.14,348.54"/><polygon points="444.61,333.56 460.83,347.07 455.46,348.72 461.82,367.27 451.59,370.42 445.23,351.87 439.86,353.53"/><polygon points="446.88,319.48 467.13,326.59 462.74,329.95 475.69,345.11 467.33,351.53 454.38,336.37 450,339.74"/><polygon points="455.15,309.19 475.53,315.96 471.21,319.39 484.43,334.33 476.19,340.89 462.97,325.95 458.64,329.39"/><polygon points="457.88,305.76 479.1,301.96 477.17,306.98 496.5,313.65 492.82,323.24 473.49,316.57 471.56,321.59"/><polygon points="482.31,323.6 500.88,313.15 500.88,318.5 521.45,318.5 521.45,328.7 500.88,328.7 500.88,334.05"/><polygon points="490.85,304.2 509.42,293.75 509.42,299.1 529.99,299.1 529.99,309.3 509.42,309.3 509.42,314.65"/><polygon points="499.39,284.7 517.95,274.25 517.95,279.6 538.53,279.6 538.53,289.8 517.95,289.8 517.95,295.15"/><polygon points="507.92,294.8 526.49,284.35 526.49,289.7 547.06,289.7 547.06,299.9 526.49,299.9 526.49,305.25"/><polygon points="518.29,321.64 530.46,304.73 532.85,309.58 551.49,301.34 556.04,310.58 537.4,318.82 539.78,323.67"/><polygon points="526.98,331.43 538.84,314.32 541.31,319.13 559.8,310.58 564.52,319.75 546.03,328.3 548.5,333.11"/><polygon points="535.37,341.34 547.54,324.43 549.92,329.28 568.57,321.04 573.12,330.28 554.47,338.52 556.86,343.37"/><polygon points="542.09,340.65 560.26,329.59 560.45,334.94 581.01,334.26 581.39,344.45 560.83,345.13 561.03,350.48"/><polygon points="550.69,351.78 570.14,342.91 569.65,348.24 590.15,349.94 589.21,360.1 568.71,358.4 568.22,363.73"/><polygon points="560.98,344.06 582.47,342.03 580.08,346.88 598.73,355.12 594.18,364.36 575.54,356.12 573.15,360.97"/><polygon points="570.31,342.12 591.9,341.88 589.08,346.51 606.89,356.26 601.51,365.09 583.7,355.34 580.88,359.97"/><polygon points="576.52,326.18 596.72,318.94 595.74,324.21 616,327.6 614.13,337.64 593.87,334.26 592.89,339.53"/><polygon points="584.77,333.75 603.71,323.92 603.52,329.27 624.08,329.95 623.7,340.14 603.14,339.46 602.94,344.81"/><polygon points="593.31,314.25 612.25,304.42 612.05,309.77 632.61,310.45 632.24,320.64 611.68,319.96 611.48,325.31"/><polygon points="612.51,331.82 624.05,314.52 626.61,319.29 644.94,310.43 649.82,319.52 631.49,328.38 634.06,333.14"/><polygon points="619.58,324 634.66,309.35 636.12,314.52 655.99,309.47 658.78,319.33 638.91,324.37 640.37,329.54"/><polygon points="633.18,316.32 638.51,296.48 642.51,300.27 657.05,286.48 664.66,293.69 650.11,307.48 654.11,311.26"/><polygon points="641.84,297.53 646.99,277.65 651.02,281.4 665.44,267.49 673.11,274.64 658.69,288.55 662.72,292.3"/><polygon points="658.37,311.94 653.26,292.05 658.66,293.62 664.67,274.97 674.96,277.95 668.95,296.6 674.34,298.16"/><polygon points="665.94,313.83 661.93,293.72 667.23,295.55 674.27,277.22 684.38,280.71 677.34,299.04 682.65,300.87"/><polygon points="680.83,312.95 670.13,295.17 675.77,295.26 676.13,275.76 686.89,275.94 686.53,295.44 692.17,295.53"/><polygon points="696.72,312.72 679.77,300.03 685.04,298.11 677.67,279.91 687.72,276.25 695.09,294.46 700.36,292.54"/><polygon points="712.08,308.02 691.16,302.96 695.15,299.18 680.6,285.39 688.21,278.18 702.76,291.97 706.75,288.18"/><polygon points="724.52,312.04 703.03,314.07 705.42,309.22 686.77,300.98 691.32,291.74 709.96,299.98 712.35,295.13"/><polygon points="734.89,303.9 716.32,314.35 716.32,309 695.75,309 695.75,298.8 716.32,298.8 716.32,293.45"/><polygon points="741.87,306.75 729.09,323.25 726.88,318.32 707.94,325.94 703.74,316.55 722.68,308.93 720.47,304.01"/><polygon points="750.27,315.46 737.79,332.16 735.5,327.27 716.7,335.2 712.33,325.89 731.12,317.95 728.83,313.07"/><polygon points="758.81,326.26 746.33,342.96 744.04,338.07 725.24,346 720.86,336.69 739.66,328.75 737.36,323.87"/><polygon points="767.35,325.66 754.87,342.36 752.57,337.47 733.78,345.4 729.4,336.09 748.2,328.15 745.9,323.27"/><polygon points="777.58,341.9 759.01,352.35 759.01,347 738.44,347 738.44,336.8 759.01,336.8 759.01,331.45"/><polygon points="786.11,341.9 767.55,352.35 767.55,347 746.97,347 746.97,336.8 767.55,336.8 767.55,331.45"/><polygon points="794.65,341.9 776.08,352.35 776.08,347 755.51,347 755.51,336.8 776.08,336.8 776.08,331.45"/><polygon points="802.23,318.47 787.98,333.84 786.23,328.76 766.67,334.78 763.34,325.08 782.91,319.06 781.17,313.97"/><polygon points="810.55,308.26 796.87,324.09 794.94,319.07 775.61,325.74 771.93,316.15 791.26,309.48 789.33,304.46"/><polygon points="819.08,308.06 805.41,323.89 803.48,318.87 784.14,325.54 780.46,315.95 799.8,309.28 797.86,304.26"/><polygon points="827.62,307.56 813.94,323.39 812.01,318.37 792.68,325.04 789,315.45 808.33,308.78 806.4,303.76"/><polygon points="836.48,291.48 821.95,306.62 820.3,301.5 800.63,307.2 797.48,297.45 817.15,291.75 815.5,286.63"/><polygon points="845.21,282.1 830.13,296.75 828.67,291.58 808.8,296.63 806.01,286.77 825.88,281.73 824.42,276.56"/><polygon points="853.11,278.15 839.73,294.22 837.71,289.22 818.5,296.21 814.65,286.69 833.85,279.7 831.83,274.7"/><polygon points="856.35,282.31 852.3,302.41 848.08,298.87 834.44,313.47 826.38,306.71 840.02,292.11 835.79,288.56"/><polygon points="865.51,290.46 860.55,310.38 856.49,306.66 842.19,320.69 834.45,313.6 848.74,299.57 844.68,295.86"/><polygon points="867.98,314.27 871.02,334.54 865.81,332.48 857.9,350.49 847.97,346.57 855.87,328.56 850.66,326.51"/><polygon points="876.64,304.92 879.53,325.21 874.34,323.12 866.3,341.07 856.39,337.08 864.43,319.13 859.24,317.04"/><polygon points="884.54,304.98 888.18,325.16 882.91,323.24 875.54,341.45 865.49,337.79 872.87,319.59 867.6,317.67"/><polygon points="886.75,316.26 897.12,334.22 891.48,334.03 890.76,353.52 880.01,353.16 880.73,333.67 875.09,333.49"/><polygon points="894.61,315.35 905.63,332.95 899.99,332.95 899.99,352.45 889.23,352.45 889.23,332.95 883.58,332.95"/><polygon points="905.96,324.16 921.93,337.94 916.53,339.5 922.55,358.15 912.26,361.13 906.24,342.48 900.85,344.05"/><polygon points="913.53,305.57 930.24,318.53 924.93,320.36 931.97,338.69 921.86,342.18 914.82,323.85 909.52,325.68"/><polygon points="916.18,300.19 936.56,306.96 932.23,310.39 945.46,325.33 937.21,331.89 923.99,316.95 919.67,320.39"/><polygon points="923.46,310.68 944.38,315.74 940.39,319.52 954.94,333.31 947.33,340.52 932.78,326.73 928.79,330.52"/><polygon points="938.5,315.2 955.68,327.6 950.44,329.61 958.15,347.69 948.17,351.51 940.47,333.43 935.23,335.43"/><polygon points="947.04,315.2 964.22,327.6 958.98,329.61 966.69,347.69 956.71,351.51 949,333.43 943.77,335.43"/><polygon points="955.58,315.2 972.75,327.6 967.52,329.61 975.23,347.69 965.25,351.51 957.54,333.43 952.31,335.43"/><polygon points="964.11,315.2 981.29,327.6 976.06,329.61 983.76,347.69 973.79,351.51 966.08,333.43 960.85,335.43"/><polygon points="979.98,313.65 991.01,331.25 985.36,331.25 985.36,350.75 974.6,350.75 974.6,331.25 968.96,331.25"/><polygon points="988.52,322.85 999.54,340.45 993.9,340.45 993.9,359.95 983.14,359.95 983.14,340.45 977.49,340.45"/><polygon points="997.06,335.35 1008.08,352.95 1002.44,352.95 1002.44,372.45 991.68,372.45 991.68,352.95 986.03,352.95"/><polygon points="998.26,316.7 1015.44,329.1 1010.21,331.11 1017.91,349.19 1007.94,353.01 1000.23,334.93 995,336.93"/><polygon points="1006.17,315.15 1023.8,326.98 1018.64,329.16 1027.01,346.97 1017.18,351.12 1008.81,333.31 1003.65,335.48"/><polygon points="603.02,320.34 616.69,304.51 618.62,309.53 637.96,302.86 641.64,312.45 622.3,319.12 624.24,324.14"/></g>
<polyline points="66.47,312.9 75.01,323 83.54,323 92.08,323 100.62,304 109.16,276 117.69,294.9 126.23,313.9 134.77,294.1 143.31,275.1 151.84,284.9 160.38,295.3 168.92,313.8 177.46,334.2 185.99,322.4 194.53,303.5 203.07,313.3 211.61,322.9 220.14,333.6 228.68,341.4 237.22,322.4 245.76,303.6 254.29,322.1 262.83,324.4 271.37,312.8 279.91,312.8 288.44,312.8 296.98,303 305.52,312.8 314.06,322.2 322.59,294.8 331.13,295.1 339.67,302.9 348.21,323.4 356.74,334.4 365.28,332.4 373.82,313.7 382.36,295.1 390.89,312.4 399.43,331.4 407.97,324.4 416.51,333.7 425.04,342.4 433.58,342.4 442.12,342.4 450.66,351.2 459.19,333.9 467.73,323.4 476.27,312.1 484.81,320.9 493.34,323.9 501.88,323.6 510.42,304.2 518.96,284.7 527.49,294.8 536.03,313.8 544.57,323.3 553.11,333.5 561.64,340 570.18,353.4 578.72,351.9 587.26,351.4 595.79,329.4 604.33,334.4 612.87,314.9 621.41,314 629.94,323.4 638.48,319.2 647.02,303.2 655.56,284.3 664.09,294.2 672.63,296.4 681.17,294.4 689.71,295.4 698.24,294.9 706.78,304.2 715.32,303.9 723.86,314 732.39,323 740.93,333.8 749.47,333.2 758.01,341.9 766.54,341.9 775.08,341.9 783.62,324.2 792.16,314.6 800.69,314.4 809.23,313.9 817.77,296.9 826.31,286.9 834.84,284.8 843.38,296.2 851.92,303.8 860.46,331.4 868.99,322 877.53,322.3 886.07,334.8 894.61,333.9 903.14,342.9 911.68,341.9 920.22,323 928.76,314.4 937.29,323.8 945.83,332.4 954.37,332.4 962.91,332.4 971.44,332.4 979.98,332.2 988.52,341.4 997.06,353.9 1005.59,333.9 1014.13,332.1" fill="none" stroke="#8c8c8c" stroke-width="1"/>
<g stroke="#0d0800" stroke-opacity="0.85" stroke-width="0.9" stroke-linejoin="miter"><polygon points="490.85,325.1 509.42,314.65 509.42,320 529.99,320 529.99,330.2 509.42,330.2 509.42,335.55" fill="#ff0000"/><polygon points="389.07,319.6 409.85,314.06 408.39,319.23 428.26,324.27 425.48,334.13 405.61,329.08 404.15,334.25" fill="#ff0000"/><polygon points="465.99,315.79 486.88,310.59 485.33,315.74 505.1,321.11 502.14,330.92 482.36,325.54 480.8,330.68" fill="#ff0000"/><polygon points="474.07,320.68 494.27,313.44 493.29,318.71 513.55,322.1 511.68,332.14 491.42,328.76 490.44,334.03" fill="#ff0000"/><polygon points="901.78,324.4 914.07,341.22 908.44,341.6 909.88,361.05 899.14,361.76 897.71,342.31 892.08,342.68" fill="#ff0000"/><polygon points="46.9,312.9 65.47,302.45 65.47,307.8 86.04,307.8 86.04,318 65.47,318 65.47,323.35" fill="#ff0000"/><polygon points="55.44,323 74,312.55 74,317.9 94.58,317.9 94.58,328.1 74,328.1 74,333.45" fill="#ff0000"/><polygon points="63.97,323 82.54,312.55 82.54,317.9 103.11,317.9 103.11,328.1 82.54,328.1 82.54,333.45" fill="#ff0000"/><polygon points="72.51,323 91.08,312.55 91.08,317.9 111.65,317.9 111.65,328.1 91.08,328.1 91.08,333.45" fill="#ff0000"/><polygon points="81.06,303.35 100,293.52 99.8,298.87 120.36,299.55 119.99,309.74 99.43,309.06 99.23,314.41" fill="#ff0000"/><polygon points="89.59,276 108.15,265.55 108.15,270.9 128.73,270.9 128.73,281.1 108.15,281.1 108.15,286.45" fill="#ffff00"/><polygon points="98.17,296.19 115.92,284.54 116.32,289.88 136.84,288.52 137.59,298.69 117.07,300.05 117.46,305.39" fill="#ffff00"/><polygon points="106.66,313.9 125.23,303.45 125.23,308.8 145.8,308.8 145.8,319 125.23,319 125.23,324.35" fill="#ff0000"/><polygon points="117.33,285.68 138.88,284.36 136.32,289.12 154.65,297.98 149.76,307.07 131.43,298.21 128.87,302.98" fill="#ffff00"/><polygon points="143.31,256.55 154.33,274.15 148.69,274.15 148.69,293.65 137.93,293.65 137.93,274.15 132.28,274.15" fill="#ffff00"/><polygon points="153.55,266.42 162.91,284.86 157.29,284.4 155.5,303.82 144.78,302.93 146.57,283.51 140.95,283.04" fill="#ffff00"/><polygon points="167.07,277.87 171.08,297.98 165.78,296.15 158.74,314.48 148.63,310.99 155.67,292.66 150.36,290.83" fill="#ffff00"/><polygon points="168.92,295.25 179.94,312.85 174.3,312.85 174.3,332.35 163.54,332.35 163.54,312.85 157.89,312.85" fill="#ff0000"/><polygon points="177.46,315.65 188.48,333.25 182.84,333.25 182.84,352.75 172.08,352.75 172.08,333.25 166.43,333.25" fill="#ff0000"/><polygon points="191.06,304.48 196.9,324.19 191.45,322.8 186.13,341.64 175.73,339 181.06,320.16 175.6,318.78" fill="#ff0000"/><polygon points="208.13,290.16 203.16,310.08 199.1,306.36 184.81,320.39 177.07,313.3 191.36,299.27 187.3,295.56" fill="#ff0000"/><polygon points="216.91,300.18 211.57,320.02 207.58,316.23 193.04,330.02 185.43,322.81 199.97,309.02 195.98,305.24" fill="#ff0000"/><polygon points="225.2,309.56 220.23,329.48 216.17,325.76 201.88,339.79 194.14,332.7 208.43,318.67 204.37,314.96" fill="#ff0000"/><polygon points="227.47,316.4 230.74,336.63 225.51,334.63 217.8,352.71 207.82,348.89 215.53,330.81 210.3,328.8" fill="#ff0000"/><polygon points="234.73,323.76 239.48,343.73 234.11,342.07 227.75,360.62 217.52,357.47 223.87,338.92 218.51,337.27" fill="#ff0000"/><polygon points="243.91,304.97 247.92,325.08 242.62,323.25 235.58,341.58 225.47,338.09 232.51,319.76 227.2,317.93" fill="#ff0000"/><polygon points="253.09,286.4 256.35,306.63 251.12,304.63 243.41,322.71 233.44,318.89 241.14,300.81 235.91,298.8" fill="#ff0000"/><polygon points="261.31,304.78 264.95,324.96 259.68,323.04 252.3,341.25 242.26,337.59 249.63,319.39 244.36,317.47" fill="#ff0000"/><polygon points="262.83,305.85 273.86,323.45 268.21,323.45 268.21,342.95 257.45,342.95 257.45,323.45 251.81,323.45" fill="#ff0000"/><polygon points="271.37,294.25 282.39,311.85 276.75,311.85 276.75,331.35 265.99,331.35 265.99,311.85 260.34,311.85" fill="#ff0000"/><polygon points="279.91,294.25 290.93,311.85 285.29,311.85 285.29,331.35 274.53,331.35 274.53,311.85 268.88,311.85" fill="#ff0000"/><polygon points="288.44,294.25 299.47,311.85 293.82,311.85 293.82,331.35 283.06,331.35 283.06,311.85 277.42,311.85" fill="#ff0000"/><polygon points="296.98,284.45 308.01,302.05 302.36,302.05 302.36,321.55 291.6,321.55 291.6,302.05 285.96,302.05" fill="#ff0000"/><polygon points="304.49,294.28 316.48,311.3 310.84,311.58 311.92,331.06 301.17,331.59 300.09,312.12 294.46,312.4" fill="#ff0000"/><polygon points="307.36,304.77 324.07,317.73 318.77,319.56 325.81,337.89 315.69,341.38 308.66,323.05 303.35,324.88" fill="#ff0000"/><polygon points="316.22,277.26 332.69,290.5 327.35,292.24 334.05,310.68 323.88,314 317.18,295.56 311.84,297.3" fill="#ffff00"/><polygon points="317.29,281.98 338.22,287.04 334.23,290.82 348.77,304.61 341.16,311.82 326.62,298.03 322.63,301.82" fill="#ffff00"/><polygon points="325.36,290.25 346.45,294.61 342.61,298.52 357.65,311.82 350.31,319.28 335.27,305.98 331.42,309.89" fill="#ff0000"/><polygon points="335.63,309.19 356.01,315.96 351.68,319.39 364.91,334.33 356.66,340.89 343.44,325.95 339.12,329.39" fill="#ff0000"/><polygon points="345.52,319.2 365.2,327.63 360.58,330.7 372.38,346.67 363.56,352.52 351.76,336.55 347.14,339.62" fill="#ff0000"/><polygon points="351.69,319.06 372.52,324.46 368.46,328.17 382.75,342.2 375.01,349.29 360.71,335.26 356.65,338.98" fill="#ff0000"/><polygon points="355.43,307.36 376.65,303.56 374.72,308.58 394.05,315.25 390.37,324.84 371.04,318.17 369.11,323.19" fill="#ff0000"/><polygon points="364.21,288.15 385.56,285.06 383.44,290.02 402.52,297.32 398.49,306.78 379.41,299.47 377.3,304.43" fill="#ffff00"/><polygon points="372.28,306.67 393.35,302.17 391.6,307.26 411.17,313.28 407.84,322.98 388.28,316.96 386.53,322.04" fill="#ff0000"/><polygon points="381.04,325.06 402.26,321.26 400.33,326.28 419.66,332.95 415.98,342.54 396.65,335.87 394.72,340.89" fill="#ff0000"/><polygon points="403.41,319.91 424.03,326 419.83,329.58 433.6,344.07 425.6,350.9 411.84,336.41 407.64,339.99" fill="#ff0000"/><polygon points="411.95,328.61 432.57,334.7 428.37,338.28 442.14,352.77 434.14,359.6 420.37,345.11 416.18,348.69" fill="#ff0000"/><polygon points="419.74,329.28 440.67,334.34 436.68,338.12 451.22,351.91 443.61,359.12 429.07,345.33 425.08,349.12" fill="#ff0000"/><polygon points="429.28,328.4 449.78,334.83 445.52,338.34 459.02,353.05 450.9,359.75 437.4,345.03 433.14,348.54" fill="#ff0000"/><polygon points="444.61,333.56 460.83,347.07 455.46,348.72 461.82,367.27 451.59,370.42 445.23,351.87 439.86,353.53" fill="#ff0000"/><polygon points="446.88,319.48 467.13,326.59 462.74,329.95 475.69,345.11 467.33,351.53 454.38,336.37 450,339.74" fill="#ff0000"/><polygon points="455.15,309.19 475.53,315.96 471.21,319.39 484.43,334.33 476.19,340.89 462.97,325.95 458.64,329.39" fill="#ff0000"/><polygon points="457.88,305.76 479.1,301.96 477.17,306.98 496.5,313.65 492.82,323.24 473.49,316.57 471.56,321.59" fill="#ff0000"/><polygon points="482.31,323.6 500.88,313.15 500.88,318.5 521.45,318.5 521.45,328.7 500.88,328.7 500.88,334.05" fill="#ff0000"/><polygon points="490.85,304.2 509.42,293.75 509.42,299.1 529.99,299.1 529.99,309.3 509.42,309.3 509.42,314.65" fill="#ff0000"/><polygon points="499.39,284.7 517.95,274.25 517.95,279.6 538.53,279.6 538.53,289.8 517.95,289.8 517.95,295.15" fill="#ffff00"/><polygon points="507.92,294.8 526.49,284.35 526.49,289.7 547.06,289.7 547.06,299.9 526.49,299.9 526.49,305.25" fill="#ffff00"/><polygon points="518.29,321.64 530.46,304.73 532.85,309.58 551.49,301.34 556.04,310.58 537.4,318.82 539.78,323.67" fill="#ff0000"/><polygon points="526.98,331.43 538.84,314.32 541.31,319.13 559.8,310.58 564.52,319.75 546.03,328.3 548.5,333.11" fill="#ff0000"/><polygon points="535.37,341.34 547.54,324.43 549.92,329.28 568.57,321.04 573.12,330.28 554.47,338.52 556.86,343.37" fill="#ff0000"/><polygon points="542.09,340.65 560.26,329.59 560.45,334.94 581.01,334.26 581.39,344.45 560.83,345.13 561.03,350.48" fill="#ff0000"/><polygon points="550.69,351.78 570.14,342.91 569.65,348.24 590.15,349.94 589.21,360.1 568.71,358.4 568.22,363.73" fill="#ff0000"/><polygon points="560.98,344.06 582.47,342.03 580.08,346.88 598.73,355.12 594.18,364.36 575.54,356.12 573.15,360.97" fill="#ff0000"/><polygon points="570.31,342.12 591.9,341.88 589.08,346.51 606.89,356.26 601.51,365.09 583.7,355.34 580.88,359.97" fill="#ff0000"/><polygon points="576.52,326.18 596.72,318.94 595.74,324.21 616,327.6 614.13,337.64 593.87,334.26 592.89,339.53" fill="#ff0000"/><polygon points="584.77,333.75 603.71,323.92 603.52,329.27 624.08,329.95 623.7,340.14 603.14,339.46 602.94,344.81" fill="#ff0000"/><polygon points="593.31,314.25 612.25,304.42 612.05,309.77 632.61,310.45 632.24,320.64 611.68,319.96 611.48,325.31" fill="#ff0000"/><polygon points="612.51,331.82 624.05,314.52 626.61,319.29 644.94,310.43 649.82,319.52 631.49,328.38 634.06,333.14" fill="#ff0000"/><polygon points="619.58,324 634.66,309.35 636.12,314.52 655.99,309.47 658.78,319.33 638.91,324.37 640.37,329.54" fill="#ff0000"/><polygon points="633.18,316.32 638.51,296.48 642.51,300.27 657.05,286.48 664.66,293.69 650.11,307.48 654.11,311.26" fill="#ff0000"/><polygon points="641.84,297.53 646.99,277.65 651.02,281.4 665.44,267.49 673.11,274.64 658.69,288.55 662.72,292.3" fill="#ffff00"/><polygon points="658.37,311.94 653.26,292.05 658.66,293.62 664.67,274.97 674.96,277.95 668.95,296.6 674.34,298.16" fill="#ffff00"/><polygon points="665.94,313.83 661.93,293.72 667.23,295.55 674.27,277.22 684.38,280.71 677.34,299.04 682.65,300.87" fill="#ffff00"/><polygon points="680.83,312.95 670.13,295.17 675.77,295.26 676.13,275.76 686.89,275.94 686.53,295.44 692.17,295.53" fill="#ffff00"/><polygon points="696.72,312.72 679.77,300.03 685.04,298.11 677.67,279.91 687.72,276.25 695.09,294.46 700.36,292.54" fill="#ffff00"/><polygon points="712.08,308.02 691.16,302.96 695.15,299.18 680.6,285.39 688.21,278.18 702.76,291.97 706.75,288.18" fill="#ffff00"/><polygon points="724.52,312.04 703.03,314.07 705.42,309.22 686.77,300.98 691.32,291.74 709.96,299.98 712.35,295.13" fill="#ff0000"/><polygon points="734.89,303.9 716.32,314.35 716.32,309 695.75,309 695.75,298.8 716.32,298.8 716.32,293.45" fill="#ff0000"/><polygon points="741.87,306.75 729.09,323.25 726.88,318.32 707.94,325.94 703.74,316.55 722.68,308.93 720.47,304.01" fill="#ff0000"/><polygon points="750.27,315.46 737.79,332.16 735.5,327.27 716.7,335.2 712.33,325.89 731.12,317.95 728.83,313.07" fill="#ff0000"/><polygon points="758.81,326.26 746.33,342.96 744.04,338.07 725.24,346 720.86,336.69 739.66,328.75 737.36,323.87" fill="#ff0000"/><polygon points="767.35,325.66 754.87,342.36 752.57,337.47 733.78,345.4 729.4,336.09 748.2,328.15 745.9,323.27" fill="#ff0000"/><polygon points="777.58,341.9 759.01,352.35 759.01,347 738.44,347 738.44,336.8 759.01,336.8 759.01,331.45" fill="#ff0000"/><polygon points="786.11,341.9 767.55,352.35 767.55,347 746.97,347 746.97,336.8 767.55,336.8 767.55,331.45" fill="#ff0000"/><polygon points="794.65,341.9 776.08,352.35 776.08,347 755.51,347 755.51,336.8 776.08,336.8 776.08,331.45" fill="#ff0000"/><polygon points="802.23,318.47 787.98,333.84 786.23,328.76 766.67,334.78 763.34,325.08 782.91,319.06 781.17,313.97" fill="#ff0000"/><polygon points="810.55,308.26 796.87,324.09 794.94,319.07 775.61,325.74 771.93,316.15 791.26,309.48 789.33,304.46" fill="#ff0000"/><polygon points="819.08,308.06 805.41,323.89 803.48,318.87 784.14,325.54 780.46,315.95 799.8,309.28 797.86,304.26" fill="#ff0000"/><polygon points="827.62,307.56 813.94,323.39 812.01,318.37 792.68,325.04 789,315.45 808.33,308.78 806.4,303.76" fill="#ff0000"/><polygon points="836.48,291.48 821.95,306.62 820.3,301.5 800.63,307.2 797.48,297.45 817.15,291.75 815.5,286.63" fill="#ffff00"/><polygon points="845.21,282.1 830.13,296.75 828.67,291.58 808.8,296.63 806.01,286.77 825.88,281.73 824.42,276.56" fill="#ffff00"/><polygon points="853.11,278.15 839.73,294.22 837.71,289.22 818.5,296.21 814.65,286.69 833.85,279.7 831.83,274.7" fill="#ffff00"/><polygon points="856.35,282.31 852.3,302.41 848.08,298.87 834.44,313.47 826.38,306.71 840.02,292.11 835.79,288.56" fill="#ffff00"/><polygon points="865.51,290.46 860.55,310.38 856.49,306.66 842.19,320.69 834.45,313.6 848.74,299.57 844.68,295.86" fill="#ff0000"/><polygon points="867.98,314.27 871.02,334.54 865.81,332.48 857.9,350.49 847.97,346.57 855.87,328.56 850.66,326.51" fill="#ff0000"/><polygon points="876.64,304.92 879.53,325.21 874.34,323.12 866.3,341.07 856.39,337.08 864.43,319.13 859.24,317.04" fill="#ff0000"/><polygon points="884.54,304.98 888.18,325.16 882.91,323.24 875.54,341.45 865.49,337.79 872.87,319.59 867.6,317.67" fill="#ff0000"/><polygon points="886.75,316.26 897.12,334.22 891.48,334.03 890.76,353.52 880.01,353.16 880.73,333.67 875.09,333.49" fill="#ff0000"/><polygon points="894.61,315.35 905.63,332.95 899.99,332.95 899.99,352.45 889.23,352.45 889.23,332.95 883.58,332.95" fill="#ff0000"/><polygon points="905.96,324.16 921.93,337.94 916.53,339.5 922.55,358.15 912.26,361.13 906.24,342.48 900.85,344.05" fill="#ff0000"/><polygon points="913.53,305.57 930.24,318.53 924.93,320.36 931.97,338.69 921.86,342.18 914.82,323.85 909.52,325.68" fill="#ff0000"/><polygon points="916.18,300.19 936.56,306.96 932.23,310.39 945.46,325.33 937.21,331.89 923.99,316.95 919.67,320.39" fill="#ff0000"/><polygon points="923.46,310.68 944.38,315.74 940.39,319.52 954.94,333.31 947.33,340.52 932.78,326.73 928.79,330.52" fill="#ff0000"/><polygon points="938.5,315.2 955.68,327.6 950.44,329.61 958.15,347.69 948.17,351.51 940.47,333.43 935.23,335.43" fill="#ff0000"/><polygon points="947.04,315.2 964.22,327.6 958.98,329.61 966.69,347.69 956.71,351.51 949,333.43 943.77,335.43" fill="#ff0000"/><polygon points="955.58,315.2 972.75,327.6 967.52,329.61 975.23,347.69 965.25,351.51 957.54,333.43 952.31,335.43" fill="#ff0000"/><polygon points="964.11,315.2 981.29,327.6 976.06,329.61 983.76,347.69 973.79,351.51 966.08,333.43 960.85,335.43" fill="#ff0000"/><polygon points="979.98,313.65 991.01,331.25 985.36,331.25 985.36,350.75 974.6,350.75 974.6,331.25 968.96,331.25" fill="#ff0000"/><polygon points="988.52,322.85 999.54,340.45 993.9,340.45 993.9,359.95 983.14,359.95 983.14,340.45 977.49,340.45" fill="#ff0000"/><polygon points="997.06,335.35 1008.08,352.95 1002.44,352.95 1002.44,372.45 991.68,372.45 991.68,352.95 986.03,352.95" fill="#ff0000"/><polygon points="998.26,316.7 1015.44,329.1 1010.21,331.11 1017.91,349.19 1007.94,353.01 1000.23,334.93 995,336.93" fill="#ff0000"/><polygon points="1006.17,315.15 1023.8,326.98 1018.64,329.16 1027.01,346.97 1017.18,351.12 1008.81,333.31 1003.65,335.48" fill="#ff0000"/><polygon points="603.02,320.34 616.69,304.51 618.62,309.53 637.96,302.86 641.64,312.45 622.3,319.12 624.24,324.14" fill="#ff0000"/></g>
<g font-family="'Liberation Sans',sans-serif" font-size="16" fill="#000"><text x="50.7" y="413.2" text-anchor="end">0</text><text x="50.7" y="366.2" text-anchor="end">1</text><text x="50.7" y="319.2" text-anchor="end">2</text><text x="50.7" y="271.2" text-anchor="end">3</text><text x="50.7" y="224.2" text-anchor="end">4</text><text x="50.7" y="177.2" text-anchor="end">5</text><text x="50.7" y="129.2" text-anchor="end">6</text><text x="1028.3" y="413.2">0</text><text x="1028.3" y="366.2">5</text><text x="1028.3" y="319.2">10</text><text x="1028.3" y="271.2">15</text><text x="1028.3" y="224.2">20</text><text x="1028.3" y="177.2">25</text><text x="1028.3" y="129.2">30</text><text x="127.95" y="435" text-anchor="middle" letter-spacing="0.1" style="font-kerning:none">Monday</text><text x="265.6" y="435" text-anchor="middle" letter-spacing="0.4" style="font-kerning:none">Tuesday</text><text x="399.72" y="435" text-anchor="middle" letter-spacing="0.15" style="font-kerning:none">Wednesday</text><text x="538.83" y="435" text-anchor="middle" letter-spacing="0.25" style="font-kerning:none">Thursday</text><text x="675.2" y="435" text-anchor="middle" letter-spacing="0.2" style="font-kerning:none">Friday</text><text x="814.3" y="435" font-weight="bold" text-anchor="middle" letter-spacing="0.2" style="font-kerning:none">Saturday</text><text x="950" y="435" font-weight="bold" text-anchor="middle" letter-spacing="0.0" style="font-kerning:none">Sunday</text></g>
<text x="129.3" y="458.9" text-anchor="middle" font-family="'DejaVu Sans',sans-serif" font-size="17" fill="#808080">12th</text>
<text x="265.9" y="458.9" text-anchor="middle" font-family="'DejaVu Sans',sans-serif" font-size="17" fill="#808080">13th</text>
<text x="402.5" y="458.9" text-anchor="middle" font-family="'DejaVu Sans',sans-serif" font-size="17" fill="#808080">14th</text>
<text x="539.1" y="458.9" text-anchor="middle" font-family="'DejaVu Sans',sans-serif" font-size="17" fill="#808080">15th</text>
<text x="675.7" y="458.9" text-anchor="middle" font-family="'DejaVu Sans',sans-serif" font-size="17" fill="#808080">16th</text>
<text x="812.3" y="458.9" text-anchor="middle" font-family="'DejaVu Sans',sans-serif" font-size="17" fill="#808080">17th</text>
<text x="948.9" y="458.9" text-anchor="middle" font-family="'DejaVu Sans',sans-serif" font-size="17" fill="#808080">18th</text>
<text transform="translate(20.4,267.5) rotate(-90)" text-anchor="middle" font-family="'Liberation Sans',sans-serif" font-size="23" fill="#000">Wave Height - Metres</text>
<text transform="translate(1059.3,265) rotate(90)" text-anchor="middle" font-family="'Liberation Sans',sans-serif" font-size="23" fill="#000">Wind Speed - Knots</text>
</svg>
</body></html>
